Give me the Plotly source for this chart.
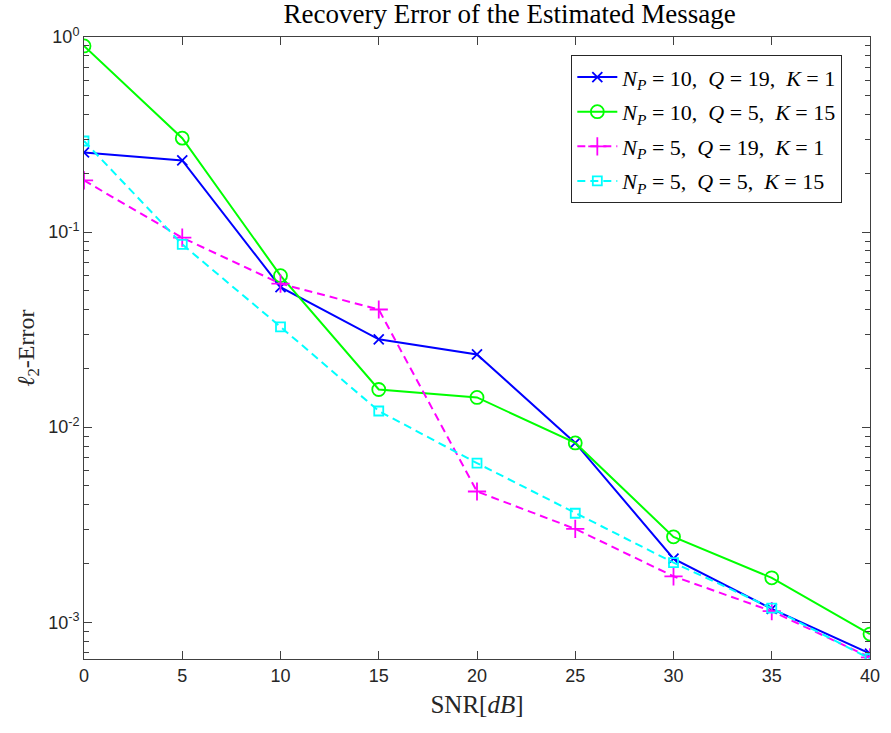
import plotly.graph_objects as go

# SNR sweep (dB)
snr = [0, 5, 10, 15, 20, 25, 30, 35, 40]

# l2 recovery error of the estimated message for each configuration
err_np10_q19_k1 = [0.256, 0.233, 0.0522, 0.0282, 0.0236, 0.0083, 0.00212, 0.00117, 0.00069]
err_np10_q5_k15 = [0.90, 0.303, 0.0598, 0.0156, 0.0142, 0.0083, 0.00274, 0.00169, 0.00087]
err_np5_q19_k1 = [0.184, 0.0936, 0.0544, 0.0401, 0.00468, 0.00301, 0.00172, 0.00114, 0.00066]
err_np5_q5_k15 = [0.293, 0.0865, 0.0327, 0.0121, 0.00654, 0.00362, 0.00202, 0.00118, 0.00065]

sp = "\u00a0"
series_names = [
    f"<i>N</i><sub><i>P</i></sub> = 10,{sp} <i>Q</i> = 19,{sp} <i>K</i> = 1",
    f"<i>N</i><sub><i>P</i></sub> = 10,{sp} <i>Q</i> = 5,{sp} <i>K</i> = 15",
    f"<i>N</i><sub><i>P</i></sub> = 5,{sp} <i>Q</i> = 19,{sp} <i>K</i> = 1",
    f"<i>N</i><sub><i>P</i></sub> = 5,{sp} <i>Q</i> = 5,{sp} <i>K</i> = 15",
]

x_ticks = [0, 5, 10, 15, 20, 25, 30, 35, 40]
y_major = [1e-3, 1e-2, 1e-1, 1e0]
y_major_text = ["10<sup>-3</sup>", "10<sup>-2</sup>", "10<sup>-1</sup>", "10<sup>0</sup>"]
y_min, y_max = 6.48e-4, 1.0

# minor log ticks at 2..9 within each decade, kept inside the visible range
y_minor = [m * d for d in (1e-4, 1e-3, 1e-2, 1e-1) for m in range(2, 10) if y_min <= m * d <= y_max]

styles = [
    dict(color="#0000ff", dash="solid", symbol="x-thin-open", size=10),
    dict(color="#00ff00", dash="solid", symbol="circle-open", size=13),
    dict(color="#ff00ff", dash="8px,5px", symbol="cross-thin-open", size=13),
    dict(color="#00ffff", dash="8px,5px", symbol="square-open", size=9),
]
data = [err_np10_q19_k1, err_np10_q5_k15, err_np5_q19_k1, err_np5_q5_k15]

fig = go.Figure()
for i, (name, ys, st) in enumerate(zip(series_names, data, styles)):
    fig.add_trace(go.Scatter(
        x=snr, y=ys, name=name, mode="lines+markers",
        legendgroup=f"g{i}",
        line=dict(color=st["color"], width=2, dash=st["dash"]),
        marker=dict(symbol=st["symbol"], size=st["size"], color=st["color"],
                    line=dict(color=st["color"], width=1.8)),
    ))

axis_color = "#404040"
tick_font = dict(family="Liberation Sans, Arial, sans-serif", size=18, color="#262626")
serif = "Liberation Serif, Times New Roman, serif"

fig.update_layout(
    width=891, height=733,
    margin=dict(l=84, r=11, t=37, b=74),
    paper_bgcolor="white", plot_bgcolor="white",
    title=dict(text="Recovery Error of the Estimated Message",
               font=dict(family=serif, size=27, color="#000000"),
               x=0.5415, xanchor="center", xref="paper",
               yref="container", y=0.969, yanchor="bottom"),
    xaxis=dict(
        range=[0, 40], tickvals=x_ticks, ticks="inside", ticklen=8,
        tickcolor=axis_color, showline=True, linecolor=axis_color, linewidth=1,
        mirror="allticks", showgrid=False, zeroline=False, tickfont=tick_font,
        title=dict(text="SNR[<i>dB</i>]", font=dict(family=serif, size=25, color="#262626"),
                   standoff=10),
    ),
    yaxis=dict(
        type="log", range=[-3.1884, 0], tickvals=y_major, ticktext=y_major_text,
        ticks="inside", ticklen=8, tickcolor=axis_color,
        minor=dict(tickvals=y_minor, ticks="inside", ticklen=5, tickcolor=axis_color),
        showline=True, linecolor=axis_color, linewidth=1, mirror="allticks",
        showgrid=False, zeroline=False, tickfont=tick_font,
        title=dict(text="<i>ℓ</i><sub>2</sub>-Error",
                   font=dict(family=serif, size=24, color="#262626"), standoff=6),
    ),
    legend=dict(
        x=0.62, y=0.9706, xanchor="left", yanchor="top",
        bgcolor="white", bordercolor="#262626", borderwidth=1,
        font=dict(family=serif, size=22, color="#000000"),
        itemwidth=40, tracegroupgap=3,
    ),
)

fig.write_html("out.html")
